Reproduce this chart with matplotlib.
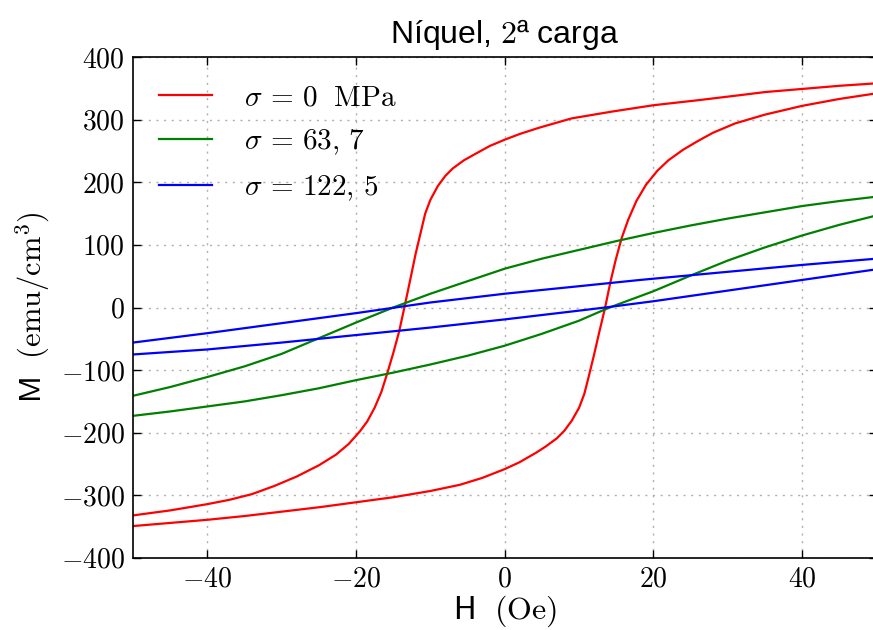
import matplotlib
matplotlib.use("Agg")
import matplotlib.pyplot as plt
from matplotlib.ticker import FuncFormatter, MultipleLocator

plt.rcParams['mathtext.fontset'] = 'cm'
plt.rcParams['font.family'] = ['Liberation Sans', 'DejaVu Sans']

# Red loop, sigma = 0 MPa (descending branch, then ascending branch)
h_red_down = [50, 45, 40, 35, 31.6, 26, 20, 14.5, 9, 4.6, 2, 0, -2, -4, -5.5, -7, -8, -9, -10,
              -10.7, -11.3, -12, -12.7, -13.5, -14.2, -15, -15.8, -16.6, -17.5, -18.5, -19.5,
              -21, -22.7, -25, -28, -31, -34, -37, -40, -45, -50]
m_red_down = [358, 354, 349, 344, 339, 331, 323, 313, 302, 287, 277, 268, 258, 245, 235, 222,
              210, 194, 172, 150, 120, 85, 45, 0, -38, -73, -105, -135, -160, -182, -198,
              -218, -235, -252, -270, -285, -298, -307, -314, -324, -332]
h_red_up = [-50, -45, -40, -35, -30, -25, -20, -15, -10, -6, -3, 0, 2, 4.2, 5.5, 7, 8, 9, 10,
            10.7, 11.3, 12, 12.7, 13.5, 14.2, 14.9, 15.7, 16.6, 17.7, 19, 20.5, 22, 24, 26, 28,
            31, 35, 40, 45, 50]
m_red_up = [-349, -344, -339, -333, -326, -319, -311, -303, -293, -283, -272, -258, -247, -232,
            -222, -209, -197, -181, -160, -138, -110, -76, -40, 0, 40, 75, 110, 140, 170, 196,
            218, 235, 252, 266, 279, 294, 308, 322, 333, 342]

# Green loop, sigma = 63,7
h_green_down = [50, 45, 40, 35, 30, 25, 20, 15, 10, 5, 0, -5, -10, -15, -20, -25, -30, -35,
                -40, -45, -50]
m_green_down = [177, 170, 162, 152, 142, 131, 119, 106, 92, 78, 62, 42, 22, 0, -24, -49, -74,
                -94, -111, -127, -141]
h_green_up = [-50, -45, -40, -35, -30, -25, -20, -15, -10, -5, 0, 5, 10, 13.5, 15, 20, 25, 30,
              35, 40, 45, 50]
m_green_up = [-173, -166, -158, -150, -140, -129, -116, -104, -91, -77, -61, -42, -21, -3, 4,
              26, 51, 75, 96, 115, 132, 147]

# Blue loop, sigma = 122,5
h_blue_down = [50, 40, 30, 18.2, 10, 0, -10, -20, -30, -40, -50]
m_blue_down = [78, 68, 57, 44, 34, 22, 8, -9, -25, -41, -56]
h_blue_up = [-50, -40, -30, -20, -10, 0, 10, 13.5, 20, 30, 40, 50]
m_blue_up = [-75, -67, -56, -44, -32, -19, -5, 0, 10, 27, 44, 61]

labels = [r'$\sigma\,=\,0\ \ \mathrm{MPa}$', r'$\sigma\,=\,63,\,7$', r'$\sigma\,=\,122,\,5$']
colors = ['#ff0000', '#008000', '#0000ff']

fig = plt.figure(figsize=(8.73, 6.30), dpi=100)
ax = fig.add_axes([133 / 873, 72 / 630, (876.5 - 133) / 873, (558 - 57) / 630])

lw = 1.6
ax.plot(h_red_down, m_red_down, color=colors[0], lw=lw, label=labels[0])
ax.plot(h_red_up, m_red_up, color=colors[0], lw=lw)
ax.plot(h_green_down, m_green_down, color=colors[1], lw=lw, label=labels[1])
ax.plot(h_green_up, m_green_up, color=colors[1], lw=lw)
ax.plot(h_blue_down, m_blue_down, color=colors[2], lw=lw, label=labels[2])
ax.plot(h_blue_up, m_blue_up, color=colors[2], lw=lw)

ax.set_xlim(-50, 50)
ax.set_ylim(-400, 400)
ax.xaxis.set_major_locator(MultipleLocator(20))
ax.yaxis.set_major_locator(MultipleLocator(100))
fmt = FuncFormatter(lambda v, p: r'$%d$' % round(v))
ax.xaxis.set_major_formatter(fmt)
ax.yaxis.set_major_formatter(fmt)
ax.tick_params(direction='in', top=True, right=True, length=6, width=1, labelsize=20, pad=6)
for s in ax.spines.values():
    s.set_linewidth(1.2)

ax.grid(True, color='#b0b0b0', linestyle=(0, (1.5, 4)), linewidth=1)

ax.set_xlabel(r'$\mathsf{H}\ \ (\mathrm{Oe})$', fontsize=23, labelpad=1)
ax.set_ylabel(r'$\mathsf{M}\ \ (\mathrm{emu/cm}^3)$', fontsize=22, labelpad=6)
ax.set_title('Níquel, $2$ª carga', fontsize=23, pad=10)

ax.legend(loc='upper left', frameon=False, fontsize=21, handlelength=1.8,
          handletextpad=1.1, labelspacing=0.55, borderaxespad=0.5)

fig.savefig('out.png', dpi=100)
